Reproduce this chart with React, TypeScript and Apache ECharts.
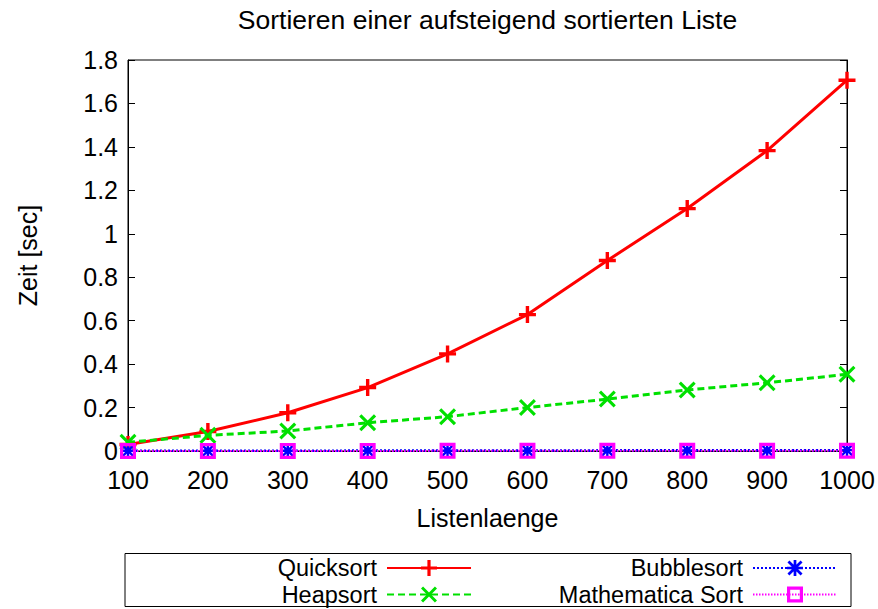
import React, { useEffect, useRef } from "react";
import * as echarts from "echarts";

const titleText = "Sortieren einer aufsteigend sortierten Liste";
const xName = "Listenlaenge";
const yName = "Zeit [sec]";
const listLengths = [100, 200, 300, 400, 500, 600, 700, 800, 900, 1000];
const quicksort = [0.03, 0.09, 0.176, 0.292, 0.447, 0.628, 0.877, 1.116, 1.383, 1.707];
const heapsort = [0.04, 0.072, 0.092, 0.13, 0.158, 0.2, 0.239, 0.281, 0.314, 0.353];
const bubblesort = [0.001, 0.001, 0.001, 0.002, 0.002, 0.002, 0.003, 0.003, 0.003, 0.004];
const mathematicaSort = [0.0002, 0.0003, 0.0004, 0.0005, 0.0006, 0.0007, 0.0008, 0.0009, 0.001, 0.0011];
const seriesNames = ["Quicksort", "Heapsort", "Bubblesort", "Mathematica Sort"];

const FONT = "'Liberation Sans', Arial, Helvetica, sans-serif";

const PLUS = "path://M8,0 L12,0 L12,8 L20,8 L20,12 L12,12 L12,20 L8,20 L8,12 L0,12 L0,8 L8,8 Z";
const XMARK = "path://M2.6,0 L10,7.4 L17.4,0 L20,2.6 L12.6,10 L20,17.4 L17.4,20 L10,12.6 L2.6,20 L0,17.4 L7.4,10 L0,2.6 Z";
const ASTER =
  "path://M8.3,0 L11.7,0 L11.7,8.3 L20,8.3 L20,11.7 L11.7,11.7 L11.7,20 L8.3,20 L8.3,11.7 L0,11.7 L0,8.3 L8.3,8.3 Z " +
  "M3,0.6 L10,7.6 L17,0.6 L19.4,3 L12.4,10 L19.4,17 L17,19.4 L10,12.4 L3,19.4 L0.6,17 L7.6,10 L0.6,3 Z";
const SQUARE = "path://M0,0 L20,0 L20,20 L0,20 Z M4,4 L4,16 L16,16 L16,4 Z";

function pairs(vals: number[]) {
  return listLengths.map((x, i) => [x, vals[i]]);
}

export default function App() {
  const ref = useRef<HTMLDivElement>(null);
  useEffect(() => {
    if (!ref.current) return;
    const chart = echarts.init(ref.current, null, { renderer: "svg" });
    const legendBase = (name: string, right: number, top: number) => ({
      data: [name],
      right,
      top,
      align: "right",
      orient: "horizontal",
      padding: 0,
      itemWidth: 84,
      itemHeight: 20,
      selectedMode: false,
      textStyle: { fontFamily: FONT, fontSize: 23.5, color: "#000", lineHeight: 24, padding: [0, 5, 0, 0] },
    });
    chart.setOption({
      animation: false,
      backgroundColor: "#fff",
      title: {
        text: titleText,
        left: 487.5,
        top: 6,
        padding: 0,
        textAlign: "center",
        textStyle: { fontFamily: FONT, fontSize: 26.5, fontWeight: "normal", color: "#000" },
      },
      grid: { left: 128, right: 31, top: 60, bottom: 158, show: true, borderColor: "#000", borderWidth: 1, backgroundColor: "transparent" },
      xAxis: [
        {
          type: "value",
          min: 100,
          max: 1000,
          interval: 100,
          name: xName,
          nameLocation: "middle",
          nameGap: 54,
          nameTextStyle: { fontFamily: FONT, fontSize: 25, color: "#000" },
          axisLine: { show: true, onZero: false, lineStyle: { color: "#000", width: 1 } },
          axisTick: { show: true, inside: true, length: 7, lineStyle: { color: "#000" } },
          axisLabel: { fontFamily: FONT, fontSize: 25, color: "#000", margin: 16, formatter: (v: number) => String(v) },
          splitLine: { show: false },
        },
        {
          type: "value",
          position: "top",
          min: 100,
          max: 1000,
          interval: 100,
          axisLine: { show: true, lineStyle: { color: "#000", width: 1 } },
          axisTick: { show: true, inside: true, length: 7, lineStyle: { color: "#000" } },
          axisLabel: { show: false },
          splitLine: { show: false },
        },
      ],
      yAxis: [
        {
          type: "value",
          min: 0,
          max: 1.8,
          interval: 0.2,
          name: yName,
          nameLocation: "middle",
          nameGap: 88,
          nameTextStyle: { fontFamily: FONT, fontSize: 25, color: "#000" },
          axisLine: { show: true, onZero: false, lineStyle: { color: "#000", width: 1 } },
          axisTick: { show: true, inside: true, length: 7, lineStyle: { color: "#000" } },
          axisLabel: { fontFamily: FONT, fontSize: 25, color: "#000", margin: 10 },
          splitLine: { show: false },
        },
        {
          type: "value",
          position: "right",
          min: 0,
          max: 1.8,
          interval: 0.2,
          axisLine: { show: true, lineStyle: { color: "#000", width: 1 } },
          axisTick: { show: true, inside: true, length: 7, lineStyle: { color: "#000" } },
          axisLabel: { show: false },
          splitLine: { show: false },
        },
      ],
      legend: [
        legendBase(seriesNames[0], 406, 556),
        legendBase(seriesNames[1], 406, 582.5),
        legendBase(seriesNames[2], 40, 556),
        legendBase(seriesNames[3], 40, 582.5),
      ],
      graphic: [
        {
          type: "rect",
          shape: { x: 125, y: 553.5, width: 726, height: 53 },
          style: { fill: "none", stroke: "#000", lineWidth: 1 },
          silent: true,
        },
      ],
      series: [
        {
          name: seriesNames[0],
          type: "line",
          data: pairs(quicksort),
          symbol: PLUS,
          symbolSize: 17,
          itemStyle: { color: "#ff0000" },
          lineStyle: { color: "#ff0000", width: 3, type: "solid" },
          clip: false,
        },
        {
          name: seriesNames[1],
          type: "line",
          data: pairs(heapsort),
          symbol: XMARK,
          symbolSize: 17,
          itemStyle: { color: "#00e000" },
          lineStyle: { color: "#00e000", width: 3, type: [7, 4] },
          clip: false,
        },
        {
          name: seriesNames[2],
          type: "line",
          data: pairs(bubblesort),
          symbol: ASTER,
          symbolSize: 14,
          itemStyle: { color: "#0000ff" },
          lineStyle: { color: "#0000ff", width: 2.5, type: [2, 2] },
          clip: false,
        },
        {
          name: seriesNames[3],
          type: "line",
          data: pairs(mathematicaSort),
          symbol: SQUARE,
          symbolSize: 16,
          itemStyle: { color: "#ff00ff" },
          lineStyle: { color: "#ff00ff", width: 2, type: [1.5, 1.5] },
          clip: false,
        },
      ],
    });
    return () => chart.dispose();
  }, []);
  return <div ref={ref} style={{ width: 878, height: 609, position: "absolute", left: 0, top: 0 }} />;
}
